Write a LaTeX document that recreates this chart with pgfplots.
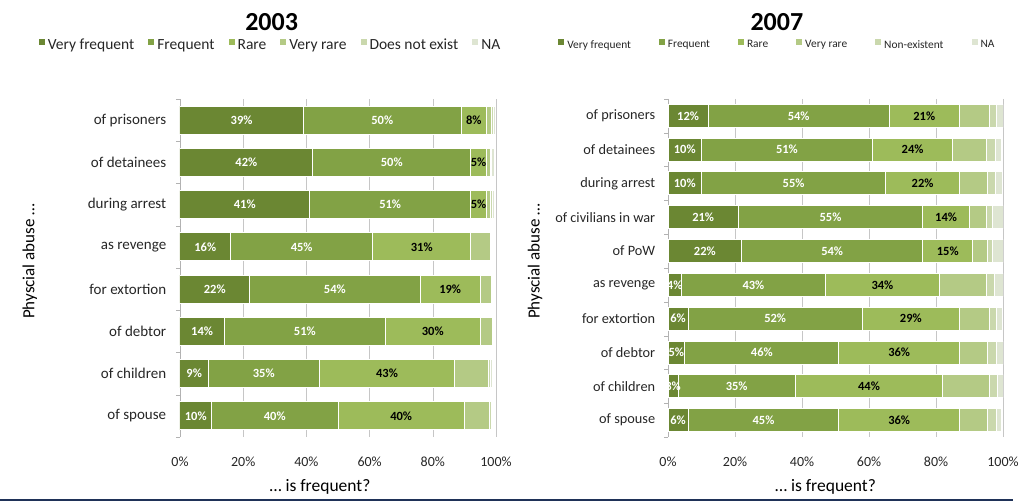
\documentclass[border=0pt]{standalone}
\usepackage{pgfplots}
\pgfplotsset{compat=1.18}
\usepackage{pgfplotstable}
\usepackage{fontspec}
\setmainfont{Carlito}
\definecolor{c1}{HTML}{6B8733}
\definecolor{c2}{HTML}{82A245}
\definecolor{c3}{HTML}{9DBB5A}
\definecolor{c4}{HTML}{B4CA85}
\definecolor{c5}{HTML}{CAD8AD}
\definecolor{c6}{HTML}{DEE5D2}
\definecolor{tk}{HTML}{262626}
\definecolor{navy}{HTML}{1F3258}

% left chart (2003)
\pgfplotstableread{
y vf f r vr dne na
0 39 50 8 1.6 0.6 0.5
1 42 50 5 1.2 0.5 0.8
2 41 51 5 1.2 0.6 0.7
3 16 45 31 6.3 0.3 0.4
4 22 54 19 3.5 0.3 0.3
5 14 51 30 3.8 0.3 0.2
6 9 35 43 10.6 0.6 0.6
7 10 40 40 7.9 0.6 0.4
}\dataA
% right chart (2007)
\pgfplotstableread{
y vf f r vr dne na
0 12 54 21 9 2.2 1.8
1 10 51 24 10 2.7 1.8
2 10 55 22 8.5 2.2 2
3 21 55 14 5 2 3
4 22 54 15 4.5 1.5 3
5 4 43 34 14 2.5 2.5
6 6 52 29 9 2.2 1.5
7 5 46 36 8.5 2.5 2
8 3 35 44 14 2.5 1.5
9 6 45 36 8.5 2.5 1.5
}\dataB

\pgfplotsset{
  common/.style={
    xbar stacked,
    scale only axis,
    y dir=reverse,
    xmin=0, xmax=100,
    xtick={0,20,40,60,80,100},
    xticklabel={\pgfmathprintnumber{\tick}\%},
    /pgf/number format/assume math mode=true,
    xmajorgrids,
    major grid style={gray!45, line width=0.6pt},
    axis x line*=bottom,
    axis y line*=left,
    x axis line style={draw=none},
    y axis line style={gray!60},
    major x tick style={draw=none},
    major y tick style={draw=none},
    minor y tick style={gray!60},
    minor tick length=4pt,
    tick align=outside,
    ytick=data,
    ticklabel style={text=tk},
    xticklabel style={font=\fontsize{14}{14}\selectfont, yshift=-12pt},
    xlabel={\dots\ is frequent?},
    xlabel style={font=\fontsize{17.5}{17.5}\selectfont, yshift=-6pt, text=black},
    ylabel={Physcial abuse \dots},
    ylabel style={font=\fontsize{17}{17}\selectfont, anchor=center, text=black},
    title style={font=\bfseries\fontsize{26}{26}\selectfont, anchor=center},
    legend cell align=left,
    legend style={draw=none, fill=none, anchor=center, text=tk},
    legend columns=6,
    legend image code/.code={\fill[##1] (0pt,-1pt) rectangle (7pt,6pt);},
    every axis plot/.append style={draw=white, line width=1pt},
  },
  lab/.style={
    point meta=rawx,
    nodes near coords={\pgfmathprintnumber[fixed,precision=0]{\pgfplotspointmeta}\%},
    every node near coord/.append style={anchor=center, font=\bfseries\fontsize{12.5}{12.5}\selectfont, text=#1},
  },
}

\begin{document}
\begin{tikzpicture}
\useasboundingbox (-180pt,-65pt) rectangle (855pt,437pt);
\draw[navy, line width=2pt] (-180pt,-63pt) -- (833pt,-63pt);
\begin{axis}[common,
  at={(0pt,0pt)}, anchor=south west,
  width=316pt, height=338pt,
  ymin=-0.5, ymax=7.5,
  minor ytick={-0.5,0.5,...,7.5},
  bar width=28pt,
  yticklabel style={font=\fontsize{15}{15}\selectfont, xshift=-6pt},
  yticklabels={of prisoners,of detainees,during arrest,as revenge,for extortion,of debtor,of children,of spouse},
  title={2003}, title style={at={(rel axis cs:0.29,1.21)}},
  ylabel style={at={(rel axis cs:-0.475,0.52)}},
  xlabel style={xshift=-18pt},
  legend style={at={(rel axis cs:0.285,1.16)}, font=\fontsize{15.5}{15.5}\selectfont,
    /tikz/every even column/.append style={column sep=11pt}},
]
\addplot[fill=c1, lab=white] table[x=vf,y=y]{\dataA};
\addplot[fill=c2, lab=white] table[x=f,y=y]{\dataA};
\addplot[fill=c3, lab=black] table[x=r,y=y]{\dataA};
\addplot[fill=c4] table[x=vr,y=y]{\dataA};
\addplot[fill=c5] table[x=dne,y=y]{\dataA};
\addplot[fill=c6] table[x=na,y=y]{\dataA};
\legend{Very frequent,Frequent,Rare,Very rare,Does not exist,NA}
\end{axis}
\begin{axis}[common,
  at={(488pt,0pt)}, anchor=south west,
  width=335pt, height=338pt,
  ymin=-0.5, ymax=9.5,
  minor ytick={-0.5,0.5,...,9.5},
  bar width=23pt,
  yticklabel style={font=\fontsize{14.3}{14.3}\selectfont, xshift=-5pt},
  yticklabels={of prisoners,of detainees,during arrest,of civilians in war,of PoW,as revenge,for extortion,of debtor,of children,of spouse},
  title={2007}, title style={at={(rel axis cs:0.325,1.21)}},
  ylabel style={at={(rel axis cs:-0.397,0.52)}},
  xlabel style={xshift=-10pt},
  legend style={at={(rel axis cs:0.325,1.16)}, font=\fontsize{11.4}{11.4}\selectfont,
    /tikz/every even column/.append style={column sep=25pt}},
]
\addplot[fill=c1, lab=white] table[x=vf,y=y]{\dataB};
\addplot[fill=c2, lab=white] table[x=f,y=y]{\dataB};
\addplot[fill=c3, lab=black] table[x=r,y=y]{\dataB};
\addplot[fill=c4] table[x=vr,y=y]{\dataB};
\addplot[fill=c5] table[x=dne,y=y]{\dataB};
\addplot[fill=c6] table[x=na,y=y]{\dataB};
\legend{Very frequent,Frequent,Rare,Very rare,Non-existent,NA}
\end{axis}
\end{tikzpicture}
\end{document}
